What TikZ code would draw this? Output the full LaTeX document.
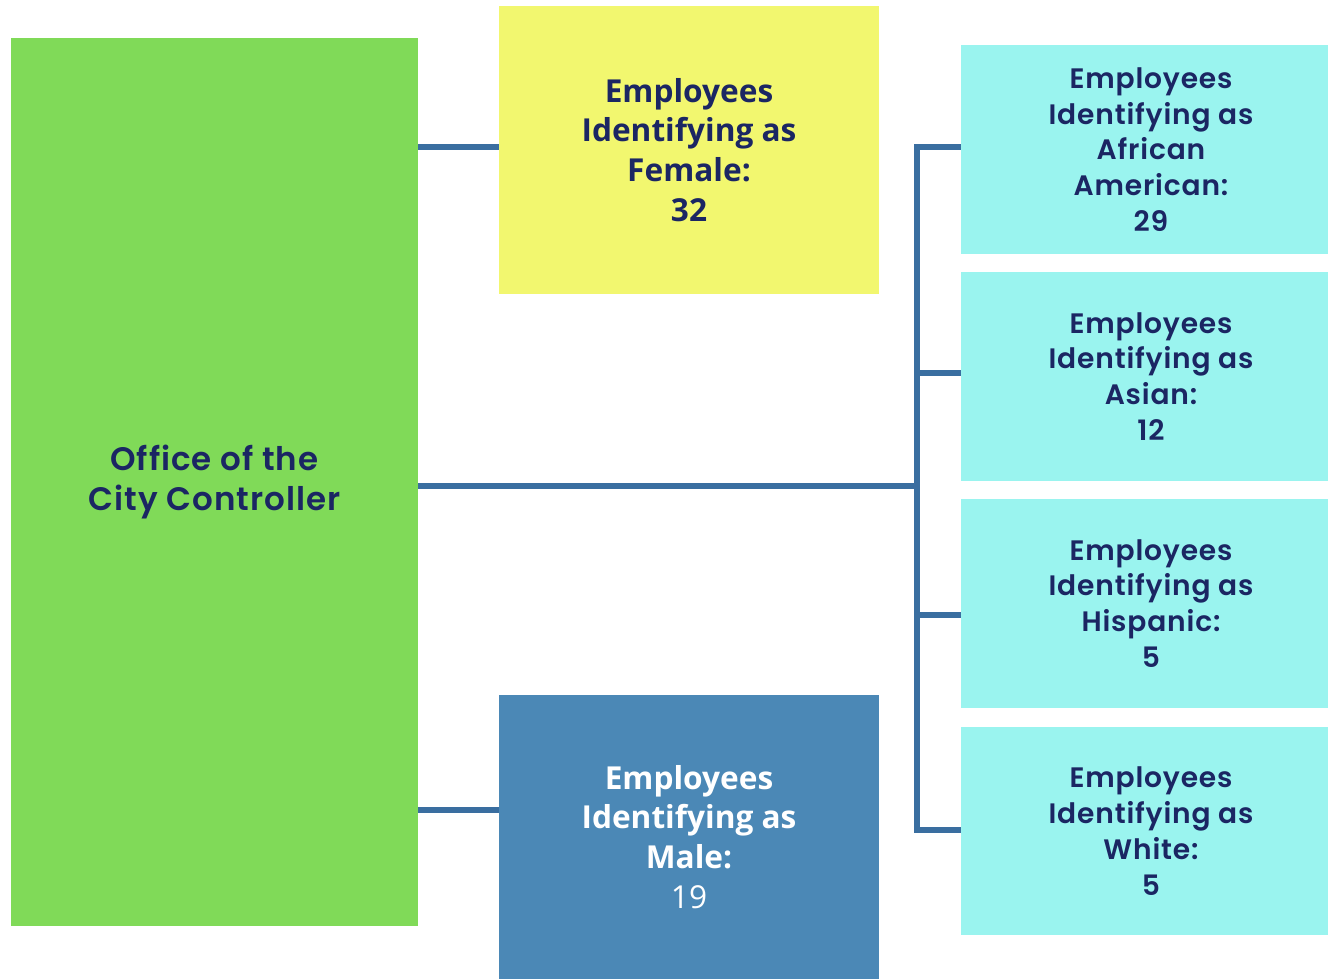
\documentclass[tikz,border=0pt]{standalone}
\usepackage{fontspec}
\setmainfont{Poppins}
\newfontfamily\genderfont{Open Sans}
\newfontfamily\racefont{Poppins}[LetterSpace=3, BoldFont={* SemiBold}]

\definecolor{officegreen}{RGB}{128,218,88}
\definecolor{femaleyellow}{RGB}{242,247,111}
\definecolor{maleblue}{RGB}{75,136,182}
\definecolor{racecyan}{RGB}{154,244,239}
\definecolor{linkblue}{RGB}{58,110,160}
\definecolor{navy}{RGB}{27,38,99}

\begin{document}
\begin{tikzpicture}[x=0.02cm, y=-0.02cm]
    % Trunk x position
    \newcommand{\trunkx}{917}
    % Boxes
    \tikzstyle{unit}=[rectangle, inner sep=0, align=center, text=navy]
    \tikzstyle{gender}=[unit, minimum width=7.6cm, font=\genderfont\bfseries\fontsize{18}{22.7}\selectfont]
    \tikzstyle{race}=[unit, fill=racecyan, minimum width=7.6cm, minimum height=4.18cm, font=\racefont\bfseries\fontsize{16}{20.4}\selectfont]
    \tikzstyle{link}=[draw=linkblue, line width=3.2pt]
    % Page
    \clip (0,0) rectangle (1328,979);

    % Office
    \node[unit, fill=officegreen, minimum width=8.14cm, minimum height=17.76cm,
      font=\racefont\bfseries\fontsize{18.5}{22.7}\selectfont] (Office) at (214.5,482)
      {Office of the\\City Controller};

    % Gender
    \node[gender, fill=femaleyellow, minimum height=5.76cm] (Female) at (689,150)
      {Employees\\Identifying as\\Female:\\32};
    \node[gender, fill=maleblue, text=white, minimum height=5.68cm] (Male) at (689,837)
      {Employees\\Identifying as\\Male:\\{\mdseries 19}};

    % Race
    \foreach \i/\y/\group in {1/149.5/{African\\American:\\29},
                              2/376.5/{Asian:\\12},
                              3/603.5/{Hispanic:\\5},
                              4/831/{White:\\5}}
      {
        \node[race] (Race-\i) at (1151,\y) {Employees\\Identifying as\\\group};
      }

    % Office to gender
    \draw[link] (Office.east |- 0,147) -- (Female.west |- 0,147);
    \draw[link] (Office.east |- 0,810) -- (Male.west |- 0,810);

    % Office to race
    \draw[link] (Office.east |- 0,486) -- (\trunkx,486);
    \draw[link, line join=miter] (Race-1.west |- 0,147) -- (\trunkx,147)
      -- (\trunkx,830) -- (Race-4.west |- 0,830);
    \foreach \i/\by in {2/373, 3/615}
      {
        \draw[link] (\trunkx,\by) -- (Race-\i.west |- 0,\by);
      }
  \end{tikzpicture}
\end{document}
